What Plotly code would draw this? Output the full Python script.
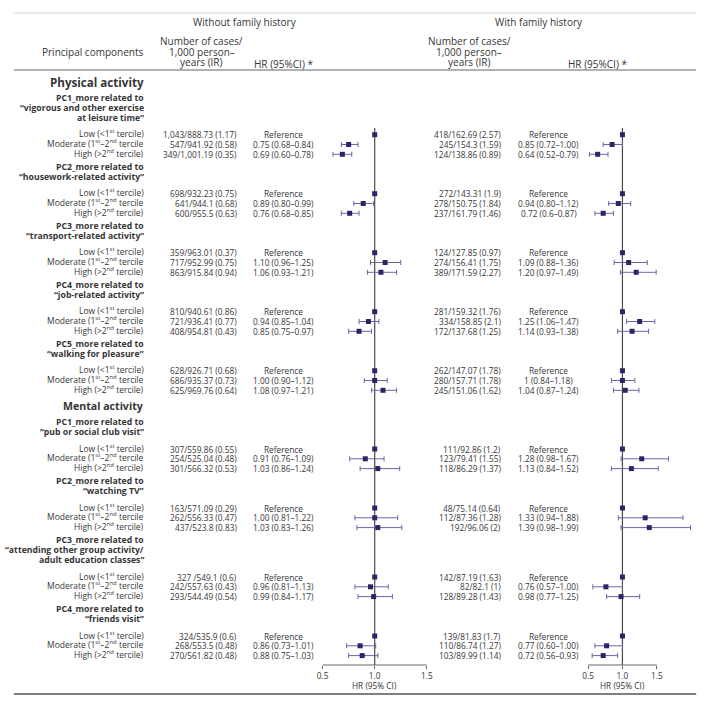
import plotly.graph_objects as go

W = H = 713
FONT = "Open Sans"
TXT = "#363636"
MARK = "#2f2366"
WHISK = "#6f62aa"

# ---------------- data ----------------
sections = ["Physical activity", "Mental activity"]
section_font = [11.6, 10.6]
group_section = [0, 0, 0, 0, 0, 1, 1, 1, 1]
group_headers = [
    ["PC1_more related to", "\u201cvigorous and other exercise", "at leisure time\u201d"],
    ["PC2_more related to", "\u201chousework-related activity\u201d"],
    ["PC3_more related to", "\u201ctransport-related activity\u201d"],
    ["PC4_more related to", "\u201cjob-related activity\u201d"],
    ["PC5_more related to", "\u201cwalking for pleasure\u201d"],
    ["PC1_more related to", "\u201cpub or social club visit\u201d"],
    ["PC2_more related to", "\u201cwatching TV\u201d"],
    ["PC3_more related to", "\u201cattending other group activity/", "adult education classes\u201d"],
    ["PC4_more related to", "\u201cfriends visit\u201d"],
]
row_labels = ["Low (<1<sup>st</sup> tercile)",
              "Moderate (1<sup>st</sup>\u20132<sup>nd</sup> tercile",
              "High (>2<sup>nd</sup> tercile)"]

# Without family history
wo_ir = [
    ["1,043/888.73 (1.17)", "547/941.92 (0.58)", "349/1,001.19 (0.35)"],
    ["698/932.23 (0.75)", "641/944.1 (0.68)", "600/955.5 (0.63)"],
    ["359/963.01 (0.37)", "717/952.99 (0.75)", "863/915.84 (0.94)"],
    ["810/940.61 (0.86)", "721/936.41 (0.77)", "408/954.81 (0.43)"],
    ["628/926.71 (0.68)", "686/935.37 (0.73)", "625/969.76 (0.64)"],
    ["307/559.86 (0.55)", "254/525.04 (0.48)", "301/566.32 (0.53)"],
    ["163/571.09 (0.29)", "262/556.33 (0.47)", "437/523.8 (0.83)"],
    ["327 /549.1 (0.6)", "242/557.63 (0.43)", "293/544.49 (0.54)"],
    ["324/535.9 (0.6)", "268/553.5 (0.48)", "270/561.82 (0.48)"],
]
wo_hr_text = [
    ["Reference", "0.75 (0.68\u20130.84)", "0.69 (0.60\u20130.78)"],
    ["Reference", "0.89 (0.80\u20130.99)", "0.76 (0.68\u20130.85)"],
    ["Reference", "1.10 (0.96\u20131.25)", "1.06 (0.93\u20131.21)"],
    ["Reference", "0.94 (0.85\u20131.04)", "0.85 (0.75\u20130.97)"],
    ["Reference", "1.00 (0.90\u20131.12)", "1.08 (0.97\u20131.21)"],
    ["Reference", "0.91 (0.76\u20131.09)", "1.03 (0.86\u20131.24)"],
    ["Reference", "1.00 (0.81\u20131.22)", "1.03 (0.83\u20131.26)"],
    ["Reference", "0.96 (0.81\u20131.13)", "0.99 (0.84\u20131.17)"],
    ["Reference", "0.86 (0.73\u20131.01)", "0.88 (0.75\u20131.03)"],
]
wo_hr = [[1, 0.75, 0.69], [1, 0.89, 0.76], [1, 1.10, 1.06], [1, 0.94, 0.85], [1, 1.00, 1.08],
         [1, 0.91, 1.03], [1, 1.00, 1.03], [1, 0.96, 0.99], [1, 0.86, 0.88]]
wo_lo = [[1, 0.68, 0.60], [1, 0.80, 0.68], [1, 0.96, 0.93], [1, 0.85, 0.75], [1, 0.90, 0.97],
         [1, 0.76, 0.86], [1, 0.81, 0.83], [1, 0.81, 0.84], [1, 0.73, 0.75]]
wo_hi = [[1, 0.84, 0.78], [1, 0.99, 0.85], [1, 1.25, 1.21], [1, 1.04, 0.97], [1, 1.12, 1.21],
         [1, 1.09, 1.24], [1, 1.22, 1.26], [1, 1.13, 1.17], [1, 1.01, 1.03]]

# With family history
wi_ir = [
    ["418/162.69 (2.57)", "245/154.3 (1.59)", "124/138.86 (0.89)"],
    ["272/143.31 (1.9)", "278/150.75 (1.84)", "237/161.79 (1.46)"],
    ["124/127.85 (0.97)", "274/156.41 (1.75)", "389/171.59 (2.27)"],
    ["281/159.32 (1.76)", "334/158.85 (2.1)", "172/137.68 (1.25)"],
    ["262/147.07 (1.78)", "280/157.71 (1.78)", "245/151.06 (1.62)"],
    ["111/92.86 (1.2)", "123/79.41 (1.55)", "118/86.29 (1.37)"],
    ["48/75.14 (0.64)", "112/87.36 (1.28)", "192/96.06 (2)"],
    ["142/87.19 (1.63)", "82/82.1 (1)", "128/89.28 (1.43)"],
    ["139/81.83 (1.7)", "110/86.74 (1.27)", "103/89.99 (1.14)"],
]
wi_hr_text = [
    ["Reference", "0.85 (0.72\u20131.00)", "0.64 (0.52\u20130.79)"],
    ["Reference", "0.94 (0.80\u20131.12)", "0.72 (0.6\u20130.87)"],
    ["Reference", "1.09 (0.88\u20131.36)", "1.20 (0.97\u20131.49)"],
    ["Reference", "1.25 (1.06\u20131.47)", "1.14 (0.93\u20131.38)"],
    ["Reference", "1 (0.84\u20131.18)", "1.04 (0.87\u20131.24)"],
    ["Reference", "1.28 (0.98\u20131.67)", "1.13 (0.84\u20131.52)"],
    ["Reference", "1.33 (0.94\u20131.88)", "1.39 (0.98\u20131.99)"],
    ["Reference", "0.76 (0.57\u20131.00)", "0.98 (0.77\u20131.25)"],
    ["Reference", "0.77 (0.60\u20131.00)", "0.72 (0.56\u20130.93)"],
]
wi_hr = [[1, 0.85, 0.64], [1, 0.94, 0.72], [1, 1.09, 1.20], [1, 1.25, 1.14], [1, 1.00, 1.04],
         [1, 1.28, 1.13], [1, 1.33, 1.39], [1, 0.76, 0.98], [1, 0.77, 0.72]]
wi_lo = [[1, 0.72, 0.52], [1, 0.80, 0.60], [1, 0.88, 0.97], [1, 1.06, 0.93], [1, 0.84, 0.87],
         [1, 0.98, 0.84], [1, 0.94, 0.98], [1, 0.57, 0.77], [1, 0.60, 0.56]]
wi_hi = [[1, 1.00, 0.79], [1, 1.12, 0.87], [1, 1.36, 1.49], [1, 1.47, 1.38], [1, 1.18, 1.24],
         [1, 1.67, 1.52], [1, 1.88, 1.99], [1, 1.00, 1.25], [1, 1.00, 0.93]]

tick_vals = [0.5, 1.0, 1.5]
tick_text = ["0.5", "1.0", "1.5"]

# ---------------- layout geometry (pixel units, y grows downward) ----------------
AXIS_Y = 665
first_section_y = 82
gap_title_header = 16
header_line = 10
gap_header_row = 16.7
row_step = 9.8
gap_row_header = 12.7
gap_row_section = 16

section_y = []
header_y = []
row_y = []
cur_sec = None
last_row = None
for g, hdr in enumerate(group_headers):
    if group_section[g] != cur_sec:
        cur_sec = group_section[g]
        sy = first_section_y if last_row is None else last_row + gap_row_section
        section_y.append(sy)
        start = sy + gap_title_header
    else:
        start = last_row + gap_row_header
    hy = [start + header_line * k for k in range(len(hdr))]
    header_y.append(hy)
    ry = [hy[-1] + gap_header_row + row_step * r for r in range(3)]
    row_y.append(ry)
    last_row = ry[-1]

# column x positions (pixels)
X_LABEL = 142
X_WO_IR = 237
X_WO_HR = 282
X_WI_IR = 506
X_WI_HR = 552

def px(x):
    return x / W

def ann(text, x, y, size=8.3, anchor="center", bold=False, color=TXT, yref="y"):
    return dict(text=("<b>%s</b>" % text) if bold else text, x=px(x), y=y, xref="paper", yref=yref,
                xanchor=anchor, yanchor="middle", showarrow=False,
                font=dict(family=FONT, size=size, color=color))

annotations = []
# top headers
annotations += [
    ann("Without family history", 243, 22, 10),
    ann("With family history", 542, 22, 10),
    ann("Principal components", X_LABEL, 52, 10, "right"),
    ann("HR (95%CI) *", 282, 64, 10),
    ann("HR (95%CI) *", 602, 64, 10),
]
for i, line in enumerate(["Number of cases/", "1,000 person\u2013", "years (IR)"]):
    annotations.append(ann(line, 199, 41 + 10.5 * i, 10))
    annotations.append(ann(line, 471, 41 + 10.5 * i, 10))

for s, name in enumerate(sections):
    annotations.append(ann(name, X_LABEL, section_y[s], section_font[s], "right", bold=True))

for g in range(len(group_headers)):
    for k, line in enumerate(group_headers[g]):
        annotations.append(ann(line, X_LABEL, header_y[g][k], 8.7, "right", bold=True))
    for r in range(3):
        y = row_y[g][r]
        annotations.append(ann(row_labels[r], X_LABEL, y - 1.5, 8.5, "right"))
        annotations.append(ann(wo_ir[g][r], X_WO_IR, y, 8.3, "right"))
        annotations.append(ann(wo_hr_text[g][r], X_WO_HR, y, 8.3, "center"))
        annotations.append(ann(wi_ir[g][r], X_WI_IR, y, 8.3, "right"))
        annotations.append(ann(wi_hr_text[g][r], X_WI_HR, y, 8.3, "center"))

# axis titles
for xr in ["x", "x2"]:
    annotations.append(dict(text="HR (95% CI)", x=1.0, xref=xr, y=(H - 685) / H, yref="paper",
                            xanchor="center", yanchor="middle", showarrow=False,
                            font=dict(family=FONT, size=8.3, color=TXT)))

# ---------------- traces ----------------
fig = go.Figure()

def add_panel(hr, lo, hi, texts, xaxis):
    ref_x, ref_y, x, y, ep, em = [], [], [], [], [], []
    for g in range(len(hr)):
        for r in range(3):
            if texts[g][r] == "Reference":
                ref_x.append(hr[g][r]); ref_y.append(row_y[g][r])
            else:
                x.append(hr[g][r]); y.append(row_y[g][r])
                ep.append(hi[g][r] - hr[g][r]); em.append(hr[g][r] - lo[g][r])
    fig.add_trace(go.Scatter(x=x, y=y, xaxis=xaxis, yaxis="y", mode="markers",
                             marker=dict(symbol="square", size=5, color=MARK),
                             error_x=dict(type="data", symmetric=False, array=ep, arrayminus=em,
                                          color=WHISK, thickness=1, width=2.5),
                             showlegend=False, hoverinfo="skip", cliponaxis=False))
    fig.add_trace(go.Scatter(x=ref_x, y=ref_y, xaxis=xaxis, yaxis="y", mode="markers",
                             marker=dict(symbol="square", size=5, color=MARK),
                             showlegend=False, hoverinfo="skip", cliponaxis=False))

add_panel(wo_hr, wo_lo, wo_hi, wo_hr_text, "x")
add_panel(wi_hr, wi_lo, wi_hi, wi_hr_text, "x2")

# ---------------- shapes ----------------
axis_paper_y = (H - AXIS_Y) / H
shapes = [
    dict(type="line", xref="paper", yref="y", x0=px(8), x1=px(702), y0=13, y1=13,
         line=dict(color="#d6d6d6", width=1)),
    dict(type="line", xref="paper", yref="y", x0=px(8), x1=px(702), y0=70, y1=70,
         line=dict(color="#666666", width=1.2)),
    dict(type="line", xref="paper", yref="paper", x0=px(8), x1=px(702), y0=(H - 694) / H, y1=(H - 694) / H,
         line=dict(color="#555555", width=1.5)),
]
for xr in ["x", "x2"]:
    shapes.append(dict(type="line", xref=xr, yref="y", x0=1, x1=1, y0=128, y1=AXIS_Y,
                       line=dict(color="#4a4a4a", width=1.2), layer="below"))
    shapes.append(dict(type="line", xref=xr, yref="paper", x0=tick_vals[0], x1=tick_vals[-1],
                       y0=axis_paper_y, y1=axis_paper_y, line=dict(color="#666666", width=1)))

axis_common = dict(showgrid=False, zeroline=False, showline=False, ticks="outside", ticklen=3,
                   tickcolor="#666666", tickwidth=1, tickvals=tick_vals, ticktext=tick_text,
                   tickfont=dict(family=FONT, size=8.3, color=TXT), anchor="y", fixedrange=True)

RIGHT_MAX = 2.05
fig.update_layout(
    width=W, height=H, margin=dict(l=0, r=0, t=0, b=0),
    paper_bgcolor="white", plot_bgcolor="rgba(0,0,0,0)",
    xaxis=dict(domain=[px(322), px(428)], range=[0.5, 1.5], **axis_common),
    xaxis2=dict(domain=[px(592), px(592 + (RIGHT_MAX - 0.5) * 70)], range=[0.5, RIGHT_MAX], **axis_common),
    yaxis=dict(domain=[axis_paper_y, 1], range=[AXIS_Y, 0], showgrid=False, zeroline=False,
               showticklabels=False, showline=False, ticks="", fixedrange=True),
    annotations=annotations, shapes=shapes,
)

fig.write_html("out.html", config={"displayModeBar": False},
               post_script="document.body.style.margin='0';document.body.style.overflow='hidden';")
